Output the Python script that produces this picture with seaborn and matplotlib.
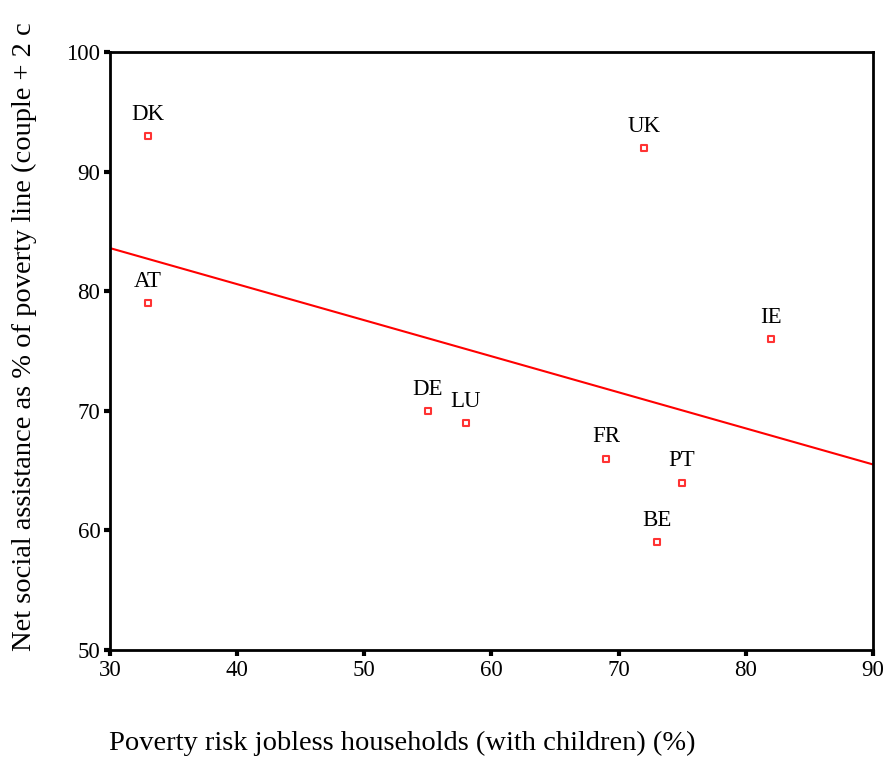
import matplotlib
matplotlib.use("Agg")
import matplotlib.pyplot as plt
import pandas as pd
import seaborn as sns

COUNTRIES = ["DK", "AT", "DE", "LU", "UK", "IE", "FR", "PT", "BE"]
POVERTY_RISK = [33, 33, 55, 58, 72, 82, 69, 75, 73]
NET_ASSISTANCE = [93, 79, 70, 69, 92, 76, 66, 64, 59]
X_TICKS = [30, 40, 50, 60, 70, 80, 90]
Y_TICKS = [50, 60, 70, 80, 90, 100]

X_LABEL = "Poverty risk jobless households (with children) (%)"
# the label is cut off at the top edge in the original chart
Y_LABEL = "Net social assistance as % of poverty line (couple + 2 c"

RED = "#ff0000"


def build_frame() -> pd.DataFrame:
    return pd.DataFrame(
        {"country": COUNTRIES, "risk": POVERTY_RISK, "assist": NET_ASSISTANCE}
    )


def plot(df: pd.DataFrame) -> None:
    sns.set_style("ticks")
    plt.rcParams["font.family"] = ["Liberation Serif", "DejaVu Serif"]
    plt.rcParams["text.color"] = "black"
    plt.rcParams["xtick.color"] = "black"
    plt.rcParams["ytick.color"] = "black"

    fig = plt.figure(figsize=(8.87, 7.58), dpi=100)
    ax = fig.add_axes([0.124, 0.1425, 0.860, 0.789])
    ax.set_xlim(30, 90)
    ax.set_ylim(50, 100)

    sns.regplot(
        data=df, x="risk", y="assist", ax=ax, ci=None, truncate=False,
        marker="s",
        scatter_kws={"s": 24, "facecolors": "white", "edgecolors": RED,
                     "linewidths": 1.5, "zorder": 3},
        line_kws={"color": RED, "linewidth": 1.5},
    )

    for _, row in df.iterrows():
        ax.annotate(row["country"], (row["risk"], row["assist"]),
                    xytext=(0, 8), textcoords="offset points",
                    ha="center", va="bottom", fontsize=16.5, color="black")

    ax.set_xlim(30, 90)
    ax.set_ylim(50, 100)
    ax.set_xticks(X_TICKS)
    ax.set_yticks(Y_TICKS)
    ax.tick_params(direction="out", length=4, width=3, labelsize=16.5, pad=3,
                   labelcolor="black")
    for spine in ax.spines.values():
        spine.set_linewidth(2)
        spine.set_color("black")
    ax.set_xlabel("")
    ax.set_ylabel("")

    fig.text(0.453, 0.003, X_LABEL, ha="center", va="bottom", fontsize=20.5)
    fig.text(0.013, 0.141, Y_LABEL, rotation=90, ha="left", va="bottom",
             fontsize=20.5)

    fig.savefig("out.png", dpi=100)


if __name__ == "__main__":
    plot(build_frame())
